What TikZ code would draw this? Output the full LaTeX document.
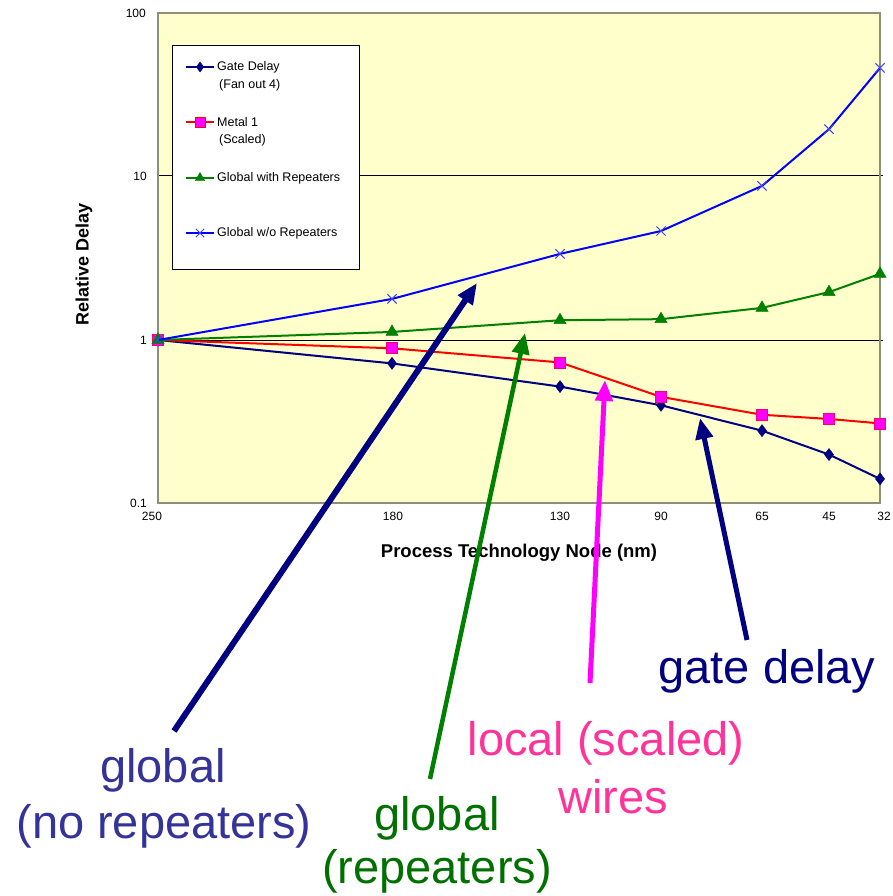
\documentclass[tikz,border=0pt]{standalone}
\usepackage{fontspec}
\setmainfont{Liberation Sans}
\usetikzlibrary{arrows.meta,plotmarks}

\definecolor{chartbg}{HTML}{FFFFCC}
\definecolor{framegray}{HTML}{8E8E7A}
\definecolor{navy}{HTML}{000080}
\definecolor{slateblue}{HTML}{333399}
\definecolor{darkgreen}{HTML}{007000}
\definecolor{linegreen}{HTML}{008000}
\definecolor{hotpink}{HTML}{FF3399}
\definecolor{brightmagenta}{HTML}{FF00FF}
\definecolor{pureblue}{HTML}{0000FF}
\definecolor{purered}{HTML}{FF0000}
\definecolor{xblue}{HTML}{4040FF}

% pixel row of a relative delay on the log axis
\newcommand{\ly}[1]{340-164*log10(#1)}

\tikzset{
  datacurve/.style={line width=2pt},
  pointer/.style={-{Triangle[length=21pt,width=17pt]}, line width=5pt},
  notetext/.style={font=\fontsize{47}{54}\selectfont, anchor=base, inner sep=0pt},
  ticklabel/.style={font=\fontsize{12}{14}\selectfont, inner sep=0pt},
  legtext/.style={font=\fontsize{12.5}{14}\selectfont, anchor=west, inner sep=0pt},
}

\begin{document}
\begin{tikzpicture}[x=1pt, y=-1pt]
    \useasboundingbox (0,0) rectangle (892,896);
    % chart area
    \fill[chartbg] (158,13) rectangle (880,503);
    \draw[black, line width=1pt] (158,176) -- (883,176);
    \draw[black, line width=1pt] (158,340) -- (883,340);
    \draw[framegray, line width=1.5pt] (158,13) rectangle (880,503);

    % axis labels
    \node[ticklabel, anchor=east] (y100) at (146,13)  {100};
    \node[ticklabel, anchor=east] (y10)  at (147,176) {10};
    \node[ticklabel, anchor=east] (y1)   at (147,340) {1};
    \node[ticklabel, anchor=east] (y01)  at (147,503) {0.1};
    \node[ticklabel] (x250) at (152,516) {250};
    \node[ticklabel] (x180) at (393,516) {180};
    \node[ticklabel] (x130) at (560,516) {130};
    \node[ticklabel] (x90)  at (661,516) {90};
    \node[ticklabel] (x65)  at (762,516) {65};
    \node[ticklabel] (x45)  at (829,516) {45};
    \node[ticklabel] (x32)  at (884,516) {32};
    \node[font=\bfseries\fontsize{18}{20}\selectfont, rotate=90] (ytitle) at (84,264) {Relative Delay};
    \node[font=\bfseries\fontsize{18.5}{20}\selectfont] (xtitle) at (519,553) {Process Technology Node (nm)};

    % legend
    \draw[black, fill=white, line width=1pt] (172,46) rectangle (359,269);
    \draw[navy, datacurve] (186,67) -- (214,67);
    \draw[navy] plot[mark=diamond*, mark size=5pt] coordinates {(200,67)};
    \node[legtext] (leggate) at (217,67) {Gate Delay};
    \node[legtext] (leggate2) at (219,85) {(Fan out 4)};
    \draw[purered, datacurve] (186,122) -- (214,122);
    \draw[purered] plot[mark=square*, mark size=5pt, mark options={fill=brightmagenta, line width=0.6pt}] coordinates {(200,122)};
    \node[legtext] (legmetal) at (217,122) {Metal 1};
    \node[legtext] (legmetal2) at (219,140) {(Scaled)};
    \draw[linegreen, datacurve] (186,178) -- (214,178);
    \draw[linegreen] plot[mark=triangle*, mark size=5.5pt] coordinates {(200,178)};
    \node[legtext] (legrep) at (217,178) {Global with Repeaters};
    \draw[pureblue, datacurve] (186,233) -- (214,233);
    \draw[xblue] plot[mark=x, mark size=6pt, mark options={line width=1pt}] coordinates {(200,233)};
    \node[legtext] (legnorep) at (217,233) {Global w/o Repeaters};

    % data
    \draw[navy, datacurve] plot[mark=diamond*, mark size=6pt, mark options={line width=0.5pt}] coordinates {
        (158,{\ly{1}}) (392,{\ly{0.72}}) (560,{\ly{0.52}}) (661,{\ly{0.40}})
        (762,{\ly{0.28}}) (829,{\ly{0.20}}) (880,{\ly{0.14}})};
    \draw[purered, datacurve] plot[mark=square*, mark size=5.5pt, mark options={fill=brightmagenta, draw=purered!60!brightmagenta, line width=0.8pt}] coordinates {
        (158,{\ly{1}}) (392,{\ly{0.89}}) (560,{\ly{0.73}}) (661,{\ly{0.45}})
        (762,{\ly{0.35}}) (829,{\ly{0.33}}) (880,{\ly{0.31}})};
    \draw[linegreen, datacurve] plot[mark=triangle*, mark size=7pt, mark options={line width=0.5pt}] coordinates {
        (158,{\ly{1}}) (392,{\ly{1.12}}) (560,{\ly{1.32}}) (661,{\ly{1.34}})
        (762,{\ly{1.57}}) (829,{\ly{1.96}}) (880,{\ly{2.53}})};
    \draw[pureblue, datacurve] plot[mark=x, mark size=6.5pt, mark options={xblue, line width=1pt}] coordinates {
        (158,{\ly{1}}) (392,{\ly{1.78}}) (560,{\ly{3.35}}) (661,{\ly{4.62}})
        (762,{\ly{8.7}}) (829,{\ly{19.3}}) (880,{\ly{45.6}})};

    % callouts
    \node[notetext, text=slateblue] (norep) at (163,782) {global};
    \node[notetext, text=slateblue] (norep2) at (164,838) {(no repeaters)};
    \node[notetext, text=darkgreen] (rep) at (437,830) {global};
    \node[notetext, text=darkgreen] (rep2) at (437,883) {(repeaters)};
    \node[notetext, text=hotpink] (local) at (606,755) {local (scaled)};
    \node[notetext, text=hotpink] (local2) at (613,813) {wires};
    \node[notetext, text=navy] (gate) at (767,683) {gate delay};

    \coordinate (norepfrom) at (174,731);
    \coordinate (norepto) at (477,283);
    \coordinate (repfrom) at (430,779);
    \coordinate (repto) at (525,333);
    \coordinate (localfrom) at (590,683);
    \coordinate (localto) at (605,380);
    \coordinate (gatefrom) at (747,640);
    \coordinate (gateto) at (700,418);
    \draw[pointer, navy, line width=6pt] (norepfrom) -- (norepto);
    \draw[pointer, linegreen, line width=4.5pt] (repfrom) -- (repto);
    \draw[pointer, brightmagenta] (localfrom) -- (localto);
    \draw[pointer, navy] (gatefrom) -- (gateto);
\end{tikzpicture}
\end{document}
